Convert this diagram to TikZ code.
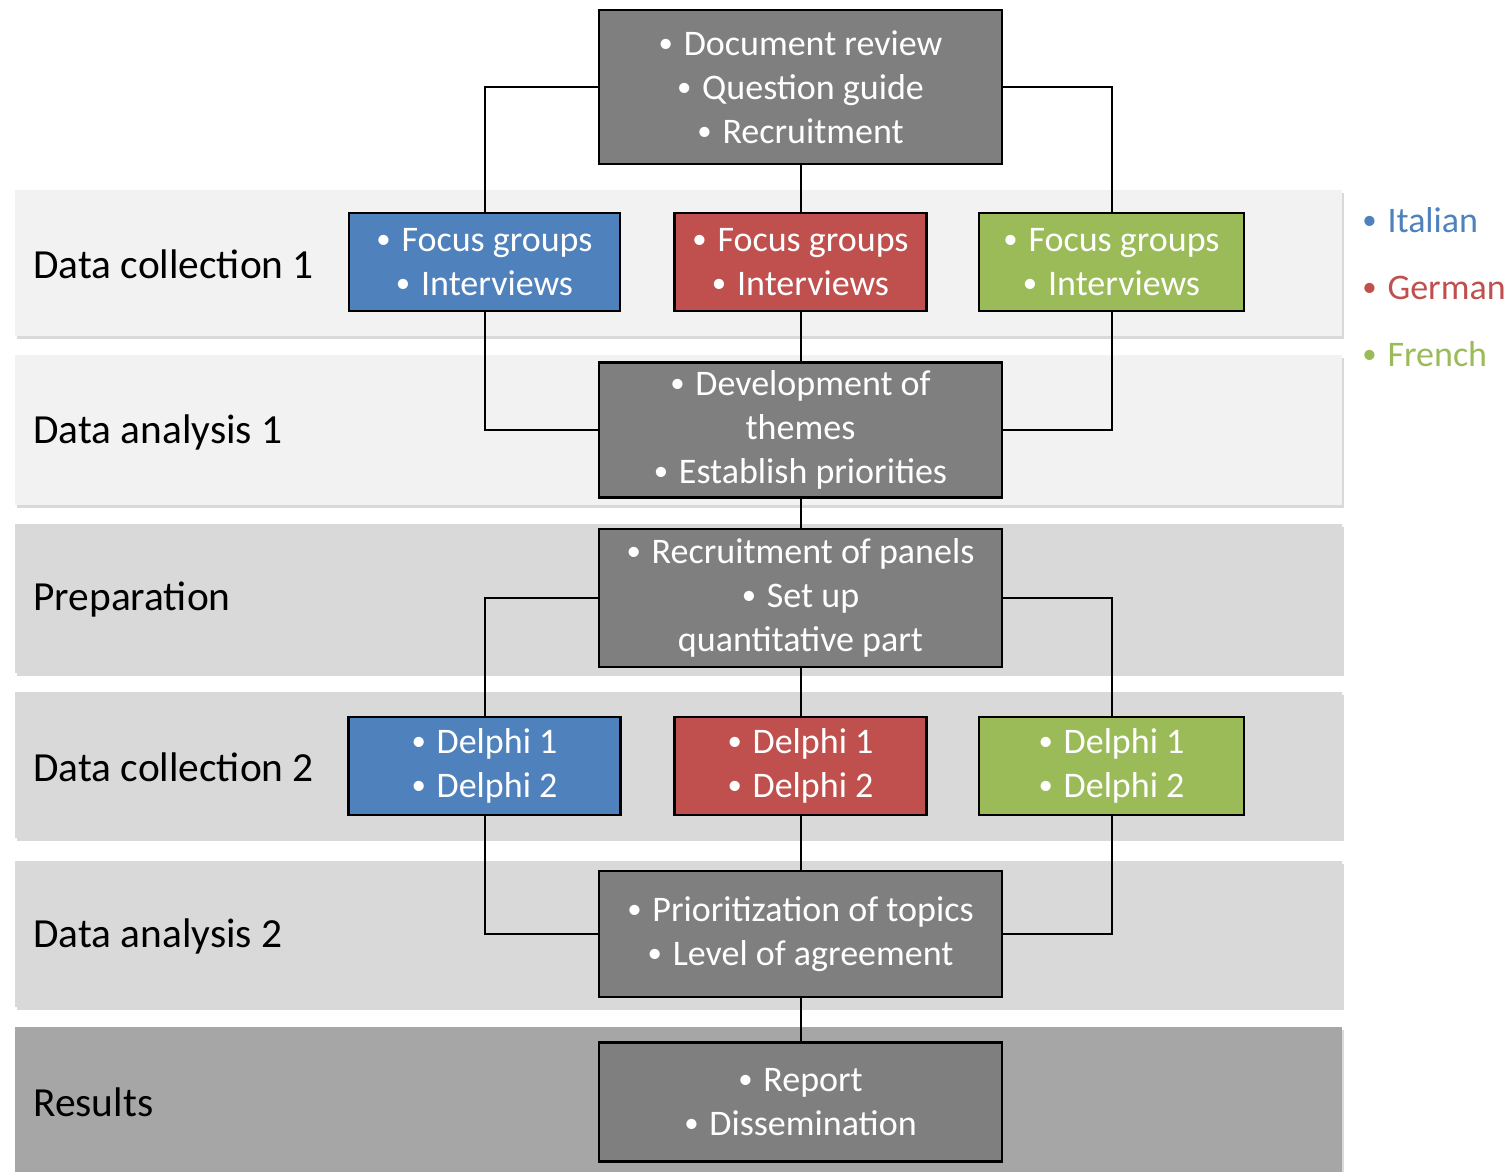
\documentclass[tikz,border=0pt]{standalone}
\usepackage{fontspec}
\setmainfont{Carlito}
\usetikzlibrary{positioning,shadows}

\definecolor{boxgray}{HTML}{7F7F7F}
\definecolor{itblue}{HTML}{4F81BD}
\definecolor{dered}{HTML}{C0504D}
\definecolor{frgreen}{HTML}{9BBB59}
\definecolor{bandA}{HTML}{F2F2F2}
\definecolor{bandB}{HTML}{D9D9D9}
\definecolor{bandC}{HTML}{A6A6A6}

\newcommand{\bul}{\raisebox{0.08em}{\scalebox{0.8}{•}}\hspace{0.3em}}

\begin{document}
\begin{tikzpicture}[node distance=84pt and 157pt, on grid,
    box/.style={draw=black, line width=1.1pt, fill=boxgray, text=white, align=center,
      inner sep=0pt, minimum width=201.5pt, font=\fontsize{18}{22}\selectfont},
    band/.style={drop shadow={shadow xshift=1pt, shadow yshift=-1.5pt, opacity=0.3}},
    lbl/.style={anchor=west, inner sep=0pt, font=\fontsize{20.7}{24}\selectfont},
    key/.style={anchor=west, inner sep=0pt, font=\fontsize{18}{22}\selectfont},
    link/.style={line width=1pt}]
      \useasboundingbox (0,0) rectangle (753pt,-586pt);

      % rows
      \fill[bandA, band] (7.5pt,-95pt)    rectangle (671pt,-168pt);
      \fill[bandA, band] (7.5pt,-177.5pt) rectangle (671pt,-252.5pt);
      \fill[bandB, band] (7.5pt,-262pt)   rectangle (671pt,-336.5pt);
      \fill[bandB, band] (7.5pt,-346pt)   rectangle (671pt,-419pt);
      \fill[bandB, band] (7.5pt,-430.5pt) rectangle (671pt,-503.5pt);
      \fill[bandC, band] (7.5pt,-513.5pt) rectangle (671pt,-590pt);

      \node[lbl] (r1) at (16.5pt,-132pt)   {Data collection 1};
      \node[lbl] (r2) at (16.5pt,-216pt)   {Data analysis 1};
      \node[lbl] (r3) at (16.5pt,-300pt)   {Preparation};
      \node[lbl] (r4) at (16.5pt,-383.5pt) {Data collection 2};
      \node[lbl] (r5) at (16.5pt,-468pt)   {Data analysis 2};
      \node[lbl] (r6) at (16.5pt,-551pt)   {Results};

      % boxes
      \node[box, minimum height=77pt] (0) at (400.25pt,-43.5pt)
        {\bul Document review\\ \bul Question guide\\ \bul Recruitment};
      \node[box, fill=dered, minimum width=126pt, minimum height=49pt] (2) [below=87.5pt of 0]
        {\bul Focus groups\\ \bul Interviews};
      \node[box, fill=itblue, minimum width=135.5pt, minimum height=49pt] (1) [left=158pt of 2]
        {\bul Focus groups\\ \bul Interviews};
      \node[box, fill=frgreen, minimum width=132.5pt, minimum height=49pt] (3) [right=155.5pt of 2]
        {\bul Focus groups\\ \bul Interviews};
      \node[box, minimum height=67.5pt] (4) [below=of 2]
        {\bul Development of\\ themes\\ \bul Establish priorities};
      \node[box, minimum height=69pt] (5) [below=of 4]
        {\bul Recruitment of panels\\ \bul Set up\\ quantitative part};
      \node[box, fill=dered, minimum width=126pt, minimum height=49pt] (7) [below=of 5]
        {\bul Delphi 1\\ \bul Delphi 2};
      \node[box, fill=itblue, minimum width=136pt, minimum height=49pt] (6) [left=158pt of 7]
        {\bul Delphi 1\\ \bul Delphi 2};
      \node[box, fill=frgreen, minimum width=132.5pt, minimum height=49pt] (8) [right=155.5pt of 7]
        {\bul Delphi 1\\ \bul Delphi 2};
      \node[box, minimum height=63pt] (9) [below=of 7]
        {\bul Prioritization of topics\\ \bul Level of agreement};
      \node[box, minimum height=59.5pt] (10) [below=of 9]
        {\bul Report\\ \bul Dissemination};

      % languages
      \node[key, text=itblue]  (11) at (681pt,-110pt) {\bul Italian};
      \node[key, text=dered]   (12) [below=34pt of 11.west, anchor=west] {\bul German};
      \node[key, text=frgreen] (13) [below=33pt of 12.west, anchor=west] {\bul French};

      \draw[link] (0.west) -| (1.north);
      \draw[link] (0.south) -- (2.north);
      \draw[link] (0.east) -| (3.north);
      \draw[link] (1.south) |- (4.west);
      \draw[link] (2.south) -- (4.north);
      \draw[link] (3.south) |- (4.east);
      \draw[link] (4.south) -- (5.north);
      \draw[link] (5.west) -| (6.north);
      \draw[link] (5.south) -- (7.north);
      \draw[link] (5.east) -| (8.north);
      \draw[link] (6.south) |- (9.west);
      \draw[link] (7.south) -- (9.north);
      \draw[link] (8.south) |- (9.east);
      \draw[link] (9.south) -- (10.north);
    \end{tikzpicture}
\end{document}
